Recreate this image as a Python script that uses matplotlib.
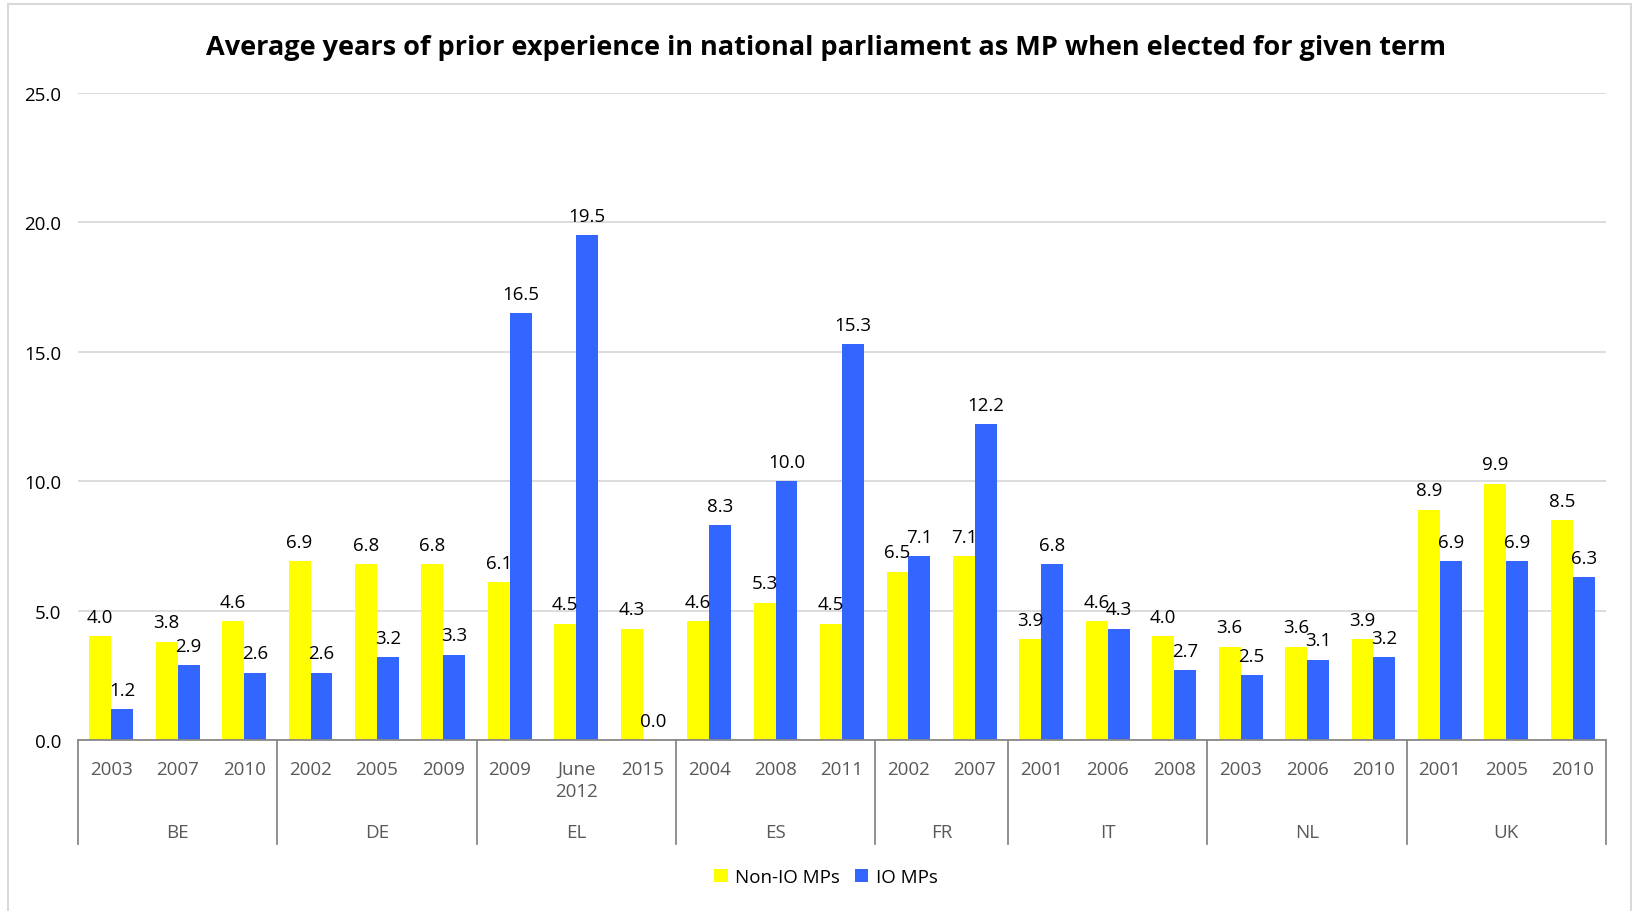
import matplotlib
matplotlib.use("Agg")
import matplotlib.pyplot as plt
from matplotlib.lines import Line2D
from matplotlib.patches import Patch

plt.rcParams['font.family'] = ['Open Sans', 'DejaVu Sans']

countries = ["BE", "DE", "EL", "ES", "FR", "IT", "NL", "UK"]
years = [
    ["2003", "2007", "2010"],
    ["2002", "2005", "2009"],
    ["2009", "June\n2012", "2015"],
    ["2004", "2008", "2011"],
    ["2002", "2007"],
    ["2001", "2006", "2008"],
    ["2003", "2006", "2010"],
    ["2001", "2005", "2010"],
]
non_io = [4.0, 3.8, 4.6, 6.9, 6.8, 6.8, 6.1, 4.5, 4.3, 4.6, 5.3, 4.5,
          6.5, 7.1, 3.9, 4.6, 4.0, 3.6, 3.6, 3.9, 8.9, 9.9, 8.5]
io = [1.2, 2.9, 2.6, 2.6, 3.2, 3.3, 16.5, 19.5, 0.0, 8.3, 10.0, 15.3,
      7.1, 12.2, 6.8, 4.3, 2.7, 2.5, 3.1, 3.2, 6.9, 6.9, 6.3]
yticks = [0, 5, 10, 15, 20, 25]

title = "Average years of prior experience in national parliament as MP when elected for given term"
series_names = ["Non-IO MPs", "IO MPs"]
c_yellow = "#FFFF00"
c_blue = "#3366FF"

W, H = 1633, 912
fig = plt.figure(figsize=(W / 100, H / 100), dpi=100)
ax = fig.add_axes([78 / W, 1 - 741 / H, (1606 - 78) / W, (741 - 94) / H])

fs = 13.5
n = len(non_io)
x = list(range(n))
bw = 0.33
xl = [i - bw / 2 for i in x]
xr = [i + bw / 2 for i in x]
b1 = ax.bar(xl, non_io, width=bw, color=c_yellow, zorder=3)
b2 = ax.bar(xr, io, width=bw, color=c_blue, zorder=3)

for bars, vals in ((b1, non_io), (b2, io)):
    for rect, v in zip(bars, vals):
        ax.annotate(f"{v:.1f}", (rect.get_x() + rect.get_width() / 2, v),
                    xytext=(0, 7.5), textcoords="offset points",
                    ha="center", va="bottom", fontsize=fs, color="black", zorder=5)

ax.set_xlim(-0.5, n - 0.5)
ax.set_ylim(0, 25)
ax.set_yticks(yticks)
ax.set_yticklabels([f"{t:.1f}" for t in yticks], fontsize=fs, color="black")
ax.tick_params(axis="y", length=0, pad=12)
ax.set_xticks([])
ax.grid(axis="y", color="#D9D9D9", linewidth=1.3, zorder=0)
for s in ("left", "right", "top"):
    ax.spines[s].set_visible(False)
ax.spines["bottom"].set_color("#888888")
ax.spines["bottom"].set_linewidth(1.3)
ax.spines["bottom"].set_zorder(4)

trans = ax.get_xaxis_transform()
ybot = -(845 - 741) / (741 - 94)
ylab = -(761 - 741) / (741 - 94)
ygrp = -(833 - 741) / (741 - 94)
pos = 0
bounds = [-0.5]
for c, ys in zip(countries, years):
    k = len(ys)
    for j, yl in enumerate(ys):
        ax.text(pos + j, ylab, yl, transform=trans, ha="center", va="top",
                fontsize=fs, color="#595959", linespacing=1.3)
    ax.text(pos + (k - 1) / 2, ygrp, c, transform=trans, ha="center", va="center",
            fontsize=fs, color="#595959")
    pos += k
    bounds.append(pos - 0.5)
for b in bounds:
    ax.add_line(Line2D([b, b], [0, ybot], transform=trans, color="#888888",
                       linewidth=1.3, clip_on=False))

fig.text(826 / W, 1 - 48 / H, title, ha="center", va="center",
         fontsize=19.5, fontweight="bold", color="black")

handles = [Patch(facecolor=c_yellow), Patch(facecolor=c_blue)]
fig.legend(handles, series_names, loc="center", bbox_to_anchor=(826 / W, 1 - 878 / H),
           ncol=2, frameon=False, fontsize=fs, handlelength=0.7, handleheight=0.7,
           handletextpad=0.4, columnspacing=0.8)

# chart area border
for xs, ys_ in (([8, 8], [5, H]), ([8, 1631], [5, 5]), ([1631, 1631], [5, H])):
    fig.add_artist(Line2D([v / W for v in xs], [1 - v / H for v in ys_],
                          transform=fig.transFigure, color="#D9D9D9", linewidth=1.5))

fig.savefig("out.png", dpi=100, facecolor="white")
